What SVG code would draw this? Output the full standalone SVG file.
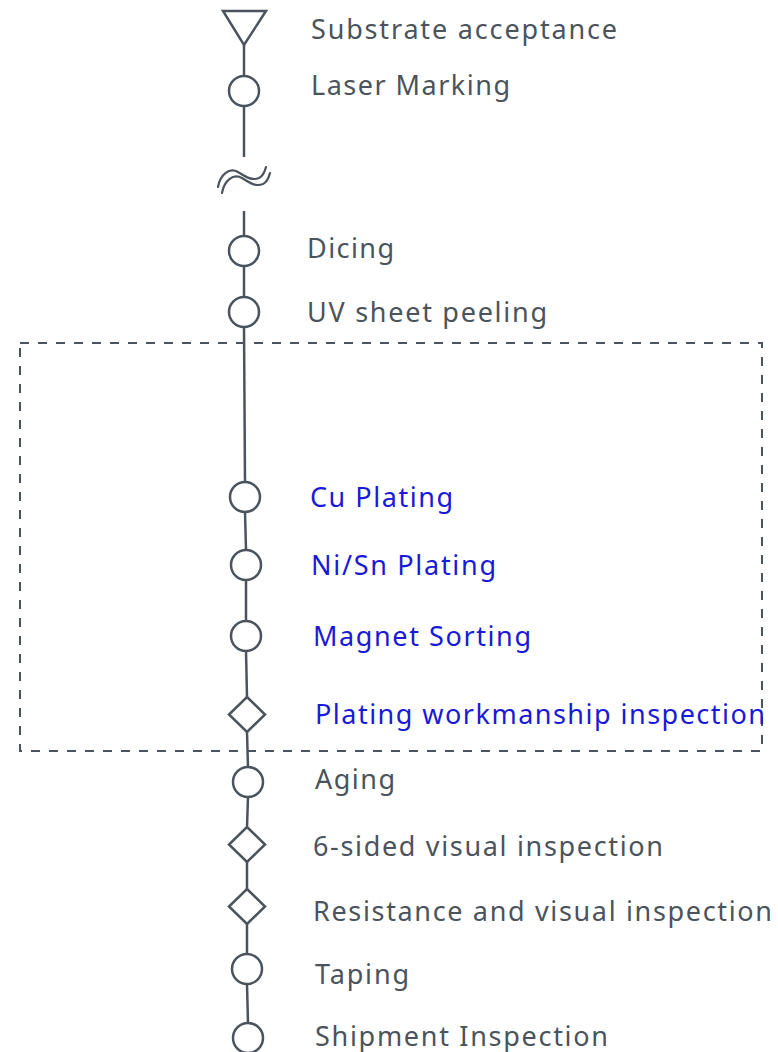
<svg xmlns="http://www.w3.org/2000/svg" width="778" height="1052" viewBox="0 0 778 1052">
<style>
.s{fill:#ffffff;stroke:#4b535c;stroke-width:2.5}
.l{stroke:#4b535c;stroke-width:2.5;fill:none}
.w{stroke:#4b535c;stroke-width:2.2;fill:none;stroke-linecap:round}
.t{font-family:"Noto Sans",sans-serif;font-size:27px;fill:#4b535c}
.b{fill:#1a1ad6}
</style>
<rect width="778" height="1052" fill="#ffffff"/>
<g id="connectors">
<line class="l" x1="244" y1="45" x2="244" y2="76"/>
<line class="l" x1="244" y1="106" x2="244" y2="157"/>
<path class="w" d="M218,187 C220,175 229,167 238,172 C246,177 252,181 259,178 C263,176 265,171 266,167"/>
<path class="w" d="M222,193 C224,181 233,173 242,178 C250,183 256,187 263,184 C267,182 269,177 270,173"/>
<line class="l" x1="244" y1="211" x2="244" y2="236"/>
<line class="l" x1="244" y1="266" x2="244" y2="297"/>
<line class="l" x1="244" y1="327" x2="245" y2="482"/>
<line class="l" x1="245" y1="512" x2="246" y2="550"/>
<line class="l" x1="246" y1="580" x2="246" y2="621"/>
<line class="l" x1="246" y1="651" x2="247" y2="697"/>
<line class="l" x1="247" y1="732" x2="248" y2="767"/>
<line class="l" x1="248" y1="797" x2="247" y2="827"/>
<line class="l" x1="247" y1="862" x2="247" y2="889"/>
<line class="l" x1="247" y1="924" x2="247" y2="954"/>
<line class="l" x1="247" y1="984" x2="248" y2="1023"/>
</g>
<g id="group-box">
<rect x="20" y="343" width="742" height="408" fill="none" stroke="#4b535c" stroke-width="2" stroke-dasharray="9,9"/>
</g>
<g id="n1"><polygon class="s" points="223,11 266,11 244,45"/><text class="t" x="311" y="39" textLength="306" lengthAdjust="spacing">Substrate acceptance</text></g>
<g id="n2"><circle class="s" cx="244" cy="91" r="15"/><text class="t" x="311" y="95" textLength="199" lengthAdjust="spacing">Laser Marking</text></g>
<g id="n3"><circle class="s" cx="244" cy="251" r="15"/><text class="t" x="307" y="258" textLength="87" lengthAdjust="spacing">Dicing</text></g>
<g id="n4"><circle class="s" cx="244" cy="312" r="15"/><text class="t" x="307" y="322" textLength="240" lengthAdjust="spacing">UV sheet peeling</text></g>
<g id="n5"><circle class="s" cx="245" cy="497" r="15"/><text class="t b" x="310" y="507" textLength="143" lengthAdjust="spacing">Cu Plating</text></g>
<g id="n6"><circle class="s" cx="246" cy="565" r="15"/><text class="t b" x="311" y="575" textLength="185" lengthAdjust="spacing">Ni/Sn Plating</text></g>
<g id="n7"><circle class="s" cx="246" cy="636" r="15"/><text class="t b" x="313" y="646" textLength="218" lengthAdjust="spacing">Magnet Sorting</text></g>
<g id="n8"><polygon class="s" points="247,697 265,714.5 247,732 229,714.5"/><text class="t b" x="315" y="724" textLength="450" lengthAdjust="spacing">Plating workmanship inspection</text></g>
<g id="n9"><circle class="s" cx="248" cy="782" r="15"/><text class="t" x="315" y="789" textLength="80" lengthAdjust="spacing">Aging</text></g>
<g id="n10"><polygon class="s" points="247,827 265,844.5 247,862 229,844.5"/><text class="t" x="313" y="856" textLength="350" lengthAdjust="spacing">6-sided visual inspection</text></g>
<g id="n11"><polygon class="s" points="247,889 265,906.5 247,924 229,906.5"/><text class="t" x="313" y="921" textLength="459" lengthAdjust="spacing">Resistance and visual inspection</text></g>
<g id="n12"><circle class="s" cx="247" cy="969" r="15"/><text class="t" x="315" y="984" textLength="94" lengthAdjust="spacing">Taping</text></g>
<g id="n13"><circle class="s" cx="248" cy="1038" r="15"/><text class="t" x="315" y="1046" textLength="293" lengthAdjust="spacing">Shipment Inspection</text></g>
</svg>
